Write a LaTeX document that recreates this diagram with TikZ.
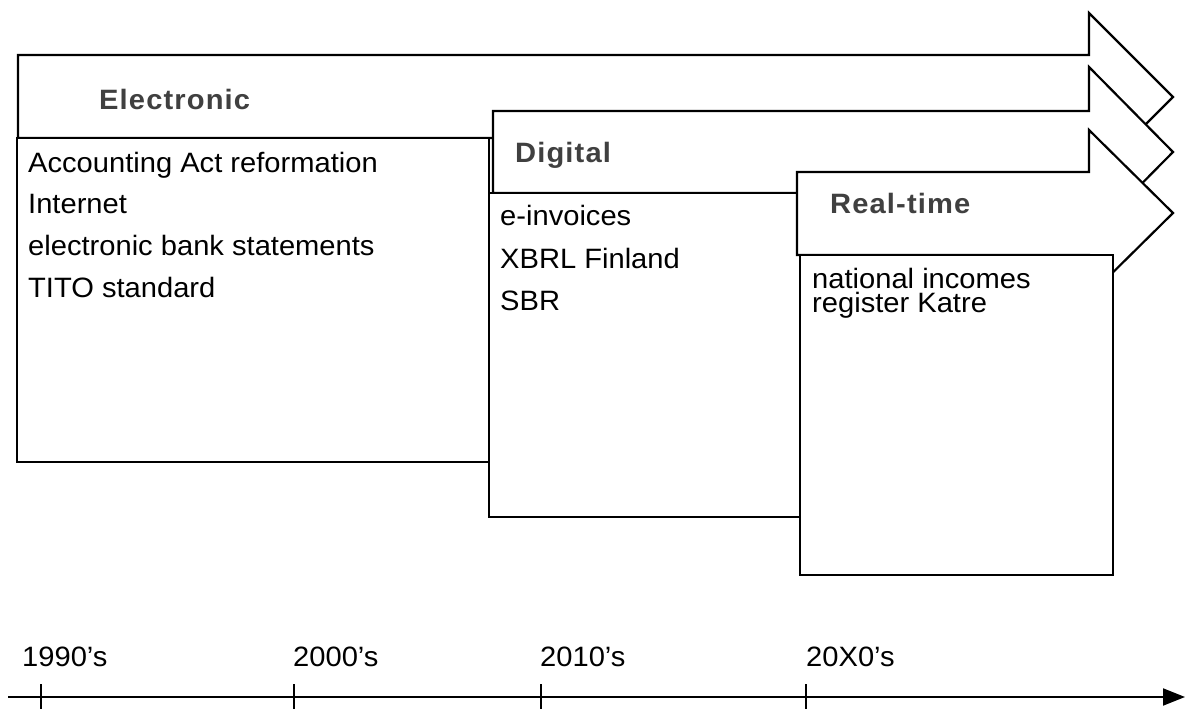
\documentclass[tikz,border=0pt]{standalone}
\usepackage{fontspec}
\setmainfont{Liberation Sans}[FakeStretch=1.04]
\newfontfamily\titlefont{Liberation Sans}[FakeStretch=1.04,LetterSpace=4]
\usetikzlibrary{arrows.meta}
\definecolor{titlegray}{HTML}{404040}
\tikzset{
  shape line/.style={draw=black, line width=2.2pt, fill=white, line join=miter},
  txt/.style={anchor=base west, inner sep=0pt, font=\fontsize{28}{28}\selectfont},
  title/.style={anchor=base west, inner sep=0pt, text=titlegray, font=\titlefont\bfseries\fontsize{28}{28}\selectfont},
  axis/.style={line width=2pt},
  tick/.style={line width=1.6pt}
}
\begin{document}
\begin{tikzpicture}[x=1pt,y=-1pt]
\useasboundingbox (0,0) rectangle (1193,709);
% Electronic arrow and box
\draw[shape line] (18,55) -- (1089,55) -- (1089,13) -- (1173,97) -- (1089,181) -- (1089,138) -- (18,138) -- cycle;
\draw[shape line] (17,138) rectangle (489,462);
% Digital arrow and box
\draw[shape line] (493,111) -- (1089,111) -- (1089,67) -- (1173,152) -- (1089,237) -- (1089,193) -- (493,193) -- cycle;
\draw[shape line] (489,193) rectangle (800,517);
% Real-time arrow and box
\draw[shape line] (797,172) -- (1089,172) -- (1089,130) -- (1173,213) -- (1089,296) -- (1089,255) -- (797,255) -- cycle;
\draw[shape line] (800,255) rectangle (1113,575);
% titles
\node[title] (tE) at (99,109) {Electronic};
\node[title] (tD) at (515,162) {Digital};
\node[title] (tR) at (830,213) {Real-time};
% contents
\node[txt] (e1) at (28,172) {Accounting Act reformation};
\node[txt] (e2) at (28,213) {Internet};
\node[txt] (e3) at (28,255) {electronic bank statements};
\node[txt] (e4) at (28,297) {TITO standard};
\node[txt] (d1) at (500,225) {e-invoices};
\node[txt] (d2) at (500,268) {XBRL Finland};
\node[txt] (d3) at (500,310) {SBR};
\node[txt, text depth=0pt] (r1) at (812,288) {national incomes};
\node[txt, text height=20pt] (r2) at (812,312) {register Katre};
% timeline
\coordinate (ts) at (8,697);
\coordinate (te) at (1185,697);
\draw[axis, -{Triangle[length=22pt,width=17pt]}] (ts) -- (te);
\foreach \x/\n in {41/a,294/b,541/c,806/d}{
  \coordinate (tk\n) at (\x,684);
  \coordinate (tb\n) at (\x,709);
  \draw[tick] (tk\n) -- (tb\n);
}
\node[txt] (y1) at (22,666) {1990’s};
\node[txt] (y2) at (293,666) {2000’s};
\node[txt] (y3) at (540,666) {2010’s};
\node[txt] (y4) at (806,666) {20X0’s};
\end{tikzpicture}
\end{document}
